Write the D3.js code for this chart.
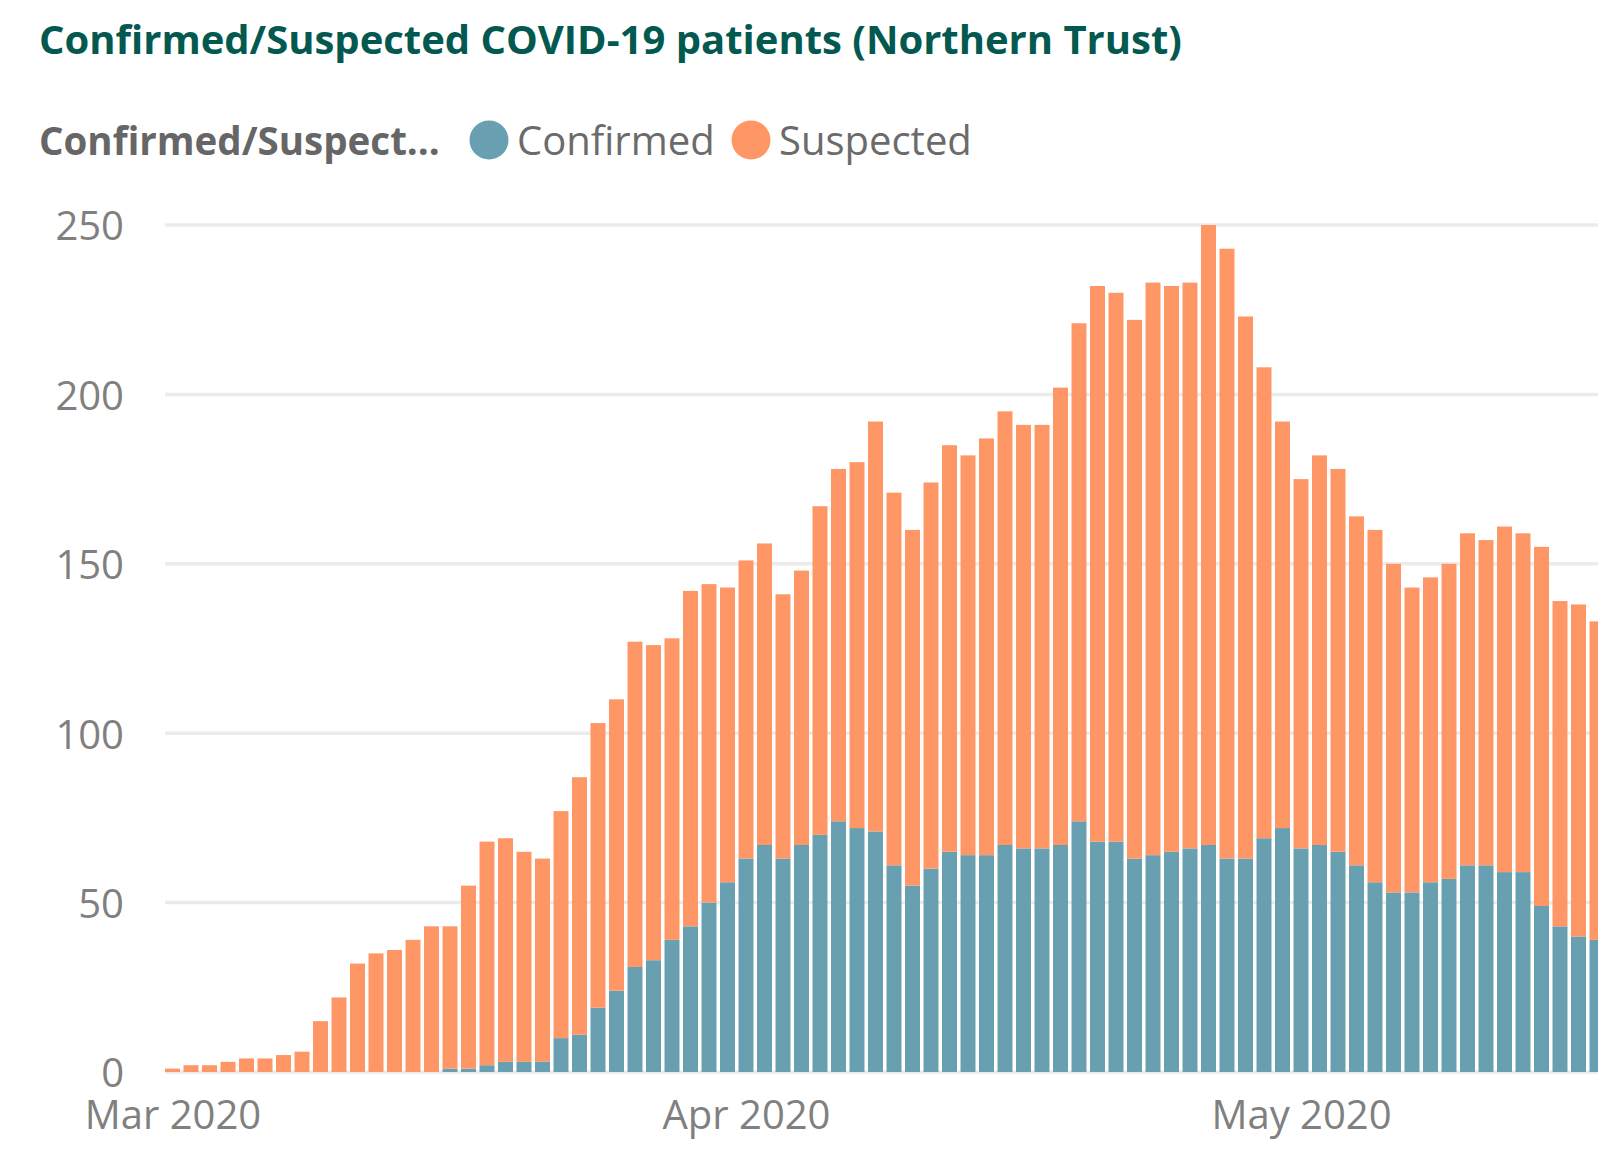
<!DOCTYPE html>
<html lang="en">
<head>
    <meta charset="UTF-8">
    <title>Confirmed/Suspected COVID-19 patients (Northern Trust)</title>
    <script src="https://d3js.org/d3.v7.min.js"></script>
    <style>
        body { margin: 0; background: #fff; }
        svg { display: block; font-family: "Open Sans", "Noto Sans", sans-serif; }
    </style>
</head>
<body>
    <div id="chart"></div>

    <script>
        // Daily values from 1 Mar 2020 (last bar runs off the right edge)
        const startDay = new Date(Date.UTC(2020, 2, 1));
        const confirmed = [
            0, 0, 0, 0, 0, 0, 0, 0, 0, 0, 0, 0, 0, 0, 0, 1, 1, 2, 3, 3,
            3, 10, 11, 19, 24, 31, 33, 39, 43, 50, 56, 63, 67, 63, 67, 70, 74, 72, 71, 61,
            55, 60, 65, 64, 64, 67, 66, 66, 67, 74, 68, 68, 63, 64, 65, 66, 67, 63, 63, 69,
            72, 66, 67, 65, 61, 56, 53, 53, 56, 57, 61, 61, 59, 59, 49, 43, 40, 39
        ];
        const suspected = [
            1, 2, 2, 3, 4, 4, 5, 6, 15, 22, 32, 35, 36, 39, 43, 42, 54, 66, 66, 62,
            60, 67, 76, 84, 86, 96, 93, 89, 99, 94, 87, 88, 89, 78, 81, 97, 104, 108, 121, 110,
            105, 114, 120, 118, 123, 128, 125, 125, 135, 147, 164, 162, 159, 169, 167, 167, 183, 180, 160, 139,
            120, 109, 115, 113, 103, 104, 97, 90, 90, 93, 98, 96, 102, 100, 106, 96, 98, 94
        ];
        const seriesNames = ["Confirmed", "Suspected"];
        const seriesColors = ["#68a0b1", "#fe9666"];
        const yTicks = [0, 50, 100, 150, 200, 250];
        const monthTicks = [new Date(Date.UTC(2020, 2, 1)), new Date(Date.UTC(2020, 3, 1)), new Date(Date.UTC(2020, 4, 1))];

        const days = d3.utcDay.range(startDay, d3.utcDay.offset(startDay, confirmed.length));
        const rows = days.map((d, i) => ({ day: d, Confirmed: confirmed[i], Suspected: suspected[i] }));

        const width = 1598, height = 1154;
        const plotLeft = 165, baseY = 1072, topY = 225;

        const svg = d3.select("#chart").append("svg")
            .attr("width", width)
            .attr("height", height);

        // title
        svg.append("text")
            .attr("x", 39)
            .attr("y", 54)
            .attr("fill", "#03594f")
            .attr("font-weight", "bold")
            .attr("font-size", 40)
            .text("Confirmed/Suspected COVID-19 patients (Northern Trust)");

        // legend
        const legend = svg.append("g").attr("font-size", 40);
        legend.append("text")
            .attr("x", 39).attr("y", 155)
            .attr("fill", "#666")
            .attr("font-weight", "bold")
            .attr("font-size", 38.5)
            .text("Confirmed/Suspect...");
        const legendX = [489, 751];
        seriesNames.forEach((name, i) => {
            legend.append("circle")
                .attr("cx", legendX[i]).attr("cy", 140).attr("r", 19.5)
                .attr("fill", seriesColors[i]);
            legend.append("text")
                .attr("x", legendX[i] + 28).attr("y", 155)
                .attr("fill", "#6b6b6b")
                .text(name);
        });

        // scales
        const x = d3.scaleUtc()
            .domain([startDay, d3.utcDay.offset(startDay, 1)])
            .range([172.5, 191]);
        const step = x(d3.utcDay.offset(startDay, 1)) - x(startDay);
        const barW = step * 0.81;

        const y = d3.scaleLinear()
            .domain([0, 250])
            .range([baseY, topY]);

        // gridlines
        svg.append("g")
            .selectAll("line")
            .data(yTicks)
            .join("line")
            .attr("x1", plotLeft).attr("x2", width)
            .attr("y1", d => y(d)).attr("y2", d => y(d))
            .attr("stroke", "#ebebeb")
            .attr("stroke-width", 3.5);

        // stacked bars
        const stacked = d3.stack().keys(seriesNames)(rows);
        svg.append("g")
            .selectAll("g")
            .data(stacked)
            .join("g")
            .attr("fill", (d, i) => seriesColors[i])
            .selectAll("rect")
            .data(d => d)
            .join("rect")
            .attr("x", d => x(d.data.day) - barW / 2)
            .attr("width", barW)
            .attr("y", d => y(d[1]))
            .attr("height", d => y(d[0]) - y(d[1]));

        // axes
        const yAxis = svg.append("g")
            .attr("transform", `translate(${plotLeft},0)`)
            .call(d3.axisLeft(y).tickValues(yTicks).tickSize(0).tickPadding(41));
        yAxis.select(".domain").remove();
        yAxis.selectAll("text")
            .attr("dy", "0.37em")
            .attr("fill", "#808080")
            .attr("font-size", 40)
            .attr("font-family", "'Open Sans', sans-serif");

        const xAxis = svg.append("g")
            .attr("transform", `translate(0,${baseY})`)
            .call(d3.axisBottom(x).tickValues(monthTicks).tickFormat(d3.utcFormat("%b %Y")).tickSize(0).tickPadding(29));
        xAxis.select(".domain").remove();
        xAxis.selectAll("text")
            .attr("fill", "#808080")
            .attr("font-size", 40)
            .attr("font-family", "'Open Sans', sans-serif");
    </script>
</body>
</html>
